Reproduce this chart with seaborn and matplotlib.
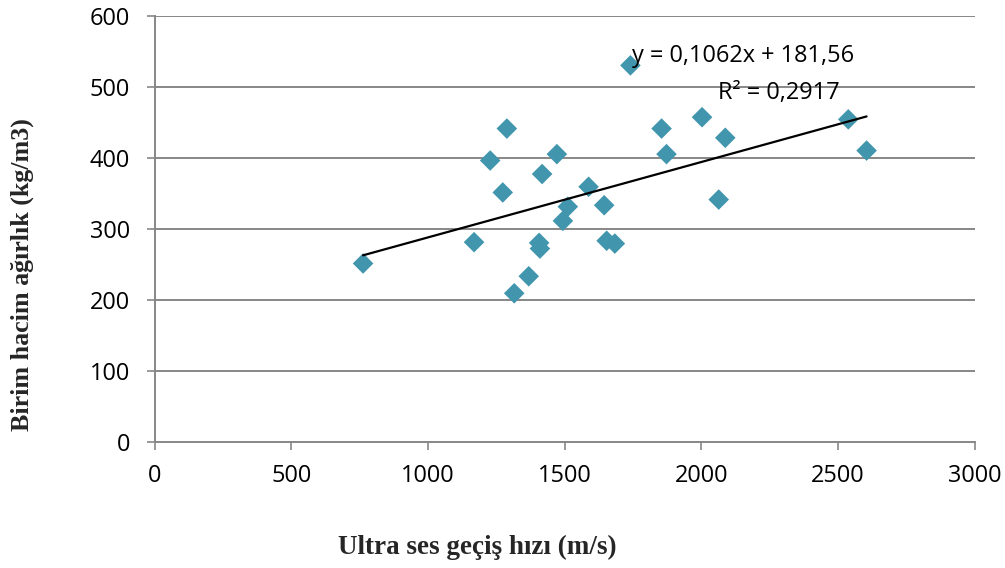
import numpy as np
import pandas as pd
import matplotlib
matplotlib.use("Agg")
import matplotlib.pyplot as plt
import seaborn as sns

# Data
velocity = [762, 1168, 1288, 1227, 1273, 1315, 1368, 1406, 1409, 1417, 1471,
            1511, 1493, 1587, 1644, 1653, 1683, 1740, 1854, 1872, 2002, 2087,
            2063, 2537, 2604]
density = [251, 281, 441, 396, 351, 209, 233, 280, 272, 377, 405,
           331, 311, 359, 333, 283, 279, 530, 441, 405, 457, 428,
           341, 454, 410]
x_ticks = [0, 500, 1000, 1500, 2000, 2500, 3000]
y_ticks = [0, 100, 200, 300, 400, 500, 600]
slope = 0.1062
intercept = 181.56
eq_text = "y = 0,1062x + 181,56"
r2_text = "R² = 0,2917"
x_label = "Ultra ses geçiş hızı (m/s)"
y_label = "Birim hacim ağırlık (kg/m3)"

df = pd.DataFrame({"v": velocity, "d": density})

sns.set_theme(style="white")
plt.rcParams['font.family'] = ['Open Sans', 'DejaVu Sans']

fig = plt.figure(figsize=(10.05, 5.68), dpi=100)
ax = fig.add_axes([0.154, 0.2224, 0.816, 0.7500])

grid_col = "#878787"
ax.set_xlim(0, 3000)
ax.set_ylim(0, 600)
ax.set_yticks(y_ticks)
ax.set_xticks(x_ticks)
for yv in y_ticks[1:]:
    ax.axhline(yv, color=grid_col, lw=1.4, zorder=0)

sns.scatterplot(data=df, x="v", y="d", ax=ax, marker="D", s=110,
                color="#4196AE", edgecolor="none", linewidth=0, zorder=3)

xs = np.array([min(velocity), max(velocity)])
line_df = pd.DataFrame({"v": xs, "d": slope * xs + intercept})
sns.lineplot(data=line_df, x="v", y="d", ax=ax, color="black", lw=1.6, zorder=4)

ax.text(1744, 535, eq_text, fontsize=16.9, ha="left", va="baseline", color="black", zorder=5)
ax.text(2060, 482, r2_text, fontsize=16.9, ha="left", va="baseline", color="black", zorder=5)

for s in ["top", "right"]:
    ax.spines[s].set_visible(False)
for s in ["left", "bottom"]:
    ax.spines[s].set_color(grid_col)
    ax.spines[s].set_linewidth(1.4)

ax.tick_params(axis="both", which="major", direction="out", length=6, width=1.2,
               color=grid_col, labelsize=16.9, labelcolor="black",
               bottom=True, left=True)
ax.tick_params(axis="x", pad=10)
ax.tick_params(axis="y", pad=12)
ax.set_xticklabels([str(v) for v in x_ticks])
ax.set_yticklabels([str(v) for v in y_ticks])

ax.set_xlabel("")
ax.set_ylabel("")
fig.text(0.4746, 0.037, x_label, fontsize=19.5, fontweight="bold",
         family="Liberation Serif", ha="center", va="center")
fig.text(0.022, 0.516, y_label, fontsize=18.7, fontweight="bold",
         family="Liberation Serif", ha="center", va="center", rotation=90)

fig.savefig("out.png", dpi=100)
